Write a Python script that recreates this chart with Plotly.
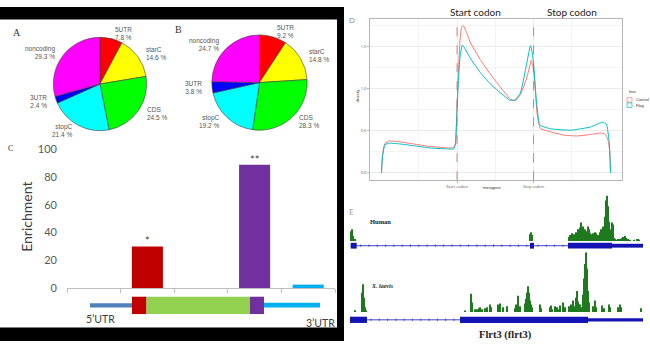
import math
import numpy as np
import plotly.graph_objects as go

W, H = 650, 347
def X(px): return px / W
def Y(py): return 1 - py / H

# ---------------- data ----------------
# Panels A/B: pie charts
pie_labels = ["5UTR", "starC", "CDS", "stopC", "3UTR", "noncoding"]
pie_a_vals = [7.8, 14.6, 24.5, 21.4, 2.4, 29.3]
pie_b_vals = [9.2, 14.8, 28.3, 19.2, 3.8, 24.7]
pie_colors = ["#FF0000", "#FFFF00", "#00FF00", "#00FFFF", "#0000FF", "#FF00FF"]

# Panel C: enrichment bars
enr_cats = ["5'UTR", "start codon", "CDS", "stop codon", "3'UTR"]
enr_vals = [0, 30, 0, 89, 2.5]
enr_sig = ["", "*", "", "**", ""]
enr_colors = ["#4F81BD", "#C00000", "#92D050", "#7030A0", "#00B0F0"]
enr_ticks = [0, 20, 40, 60, 80, 100]

# Panel D: metagene density
meta_start, meta_stop = 33.0, 66.4
ctrl_x = [0, 0.5, 1.5, 3.6, 8, 13.9, 21.2, 28, 31.5, 32.3, 33.0, 33.6, 34.3, 35.0, 35.8, 37, 38.7,
          43.1, 47.4, 51.8, 56.2, 58.4, 60.6, 62.0, 63.5, 65.0, 65.4, 66.0, 66.7, 67.9, 69.3, 73.7,
          79.6, 85.4, 91.2, 96, 97.8, 98.8, 99.7, 100]
ctrl_y = [0.0, 0.22, 0.35, 0.38, 0.37, 0.345, 0.315, 0.30, 0.30, 0.36, 0.80, 1.22, 1.58, 1.74, 1.75,
          1.68, 1.56, 1.35, 1.18, 1.025, 0.88, 0.86, 0.93, 1.02, 1.14, 1.30, 1.34, 1.28, 1.15, 0.72,
          0.53, 0.49, 0.45, 0.44, 0.457, 0.475, 0.46, 0.40, 0.25, 0.0]
trt_x = [0, 0.5, 1.5, 3.6, 8, 13.9, 21.2, 28, 31.5, 32.3, 33.0, 33.6, 34.3, 35.3, 36.0, 38.7, 43.1,
         47.4, 51.8, 56.2, 58.4, 60.6, 62.8, 64.3, 65.0, 65.7, 66.4, 67.5, 68.6, 69.3, 73.7, 82.5,
         91.2, 96.4, 98.2, 99.4, 100]
trt_y = [0.0, 0.20, 0.335, 0.354, 0.345, 0.324, 0.297, 0.287, 0.285, 0.34, 0.75, 1.10, 1.38, 1.523,
         1.50, 1.37, 1.197, 1.063, 0.956, 0.864, 0.87, 0.948, 1.216, 1.43, 1.515, 1.45, 1.30, 0.90,
         0.62, 0.565, 0.526, 0.508, 0.546, 0.603, 0.58, 0.374, 0.0]
meta_series = ["Control", "Flag"]
meta_colors = ["#F8766D", "#00BFC4"]

# Panel E: genome browser tracks (position, signal)
human_pos = [1, 2, 3, 5, 180, 181, 182,
             219, 220, 221, 222, 223, 224, 225, 226, 227, 228, 229, 230, 231, 232, 233, 234, 235, 236,
             237, 238, 239, 240, 241, 242, 243, 244, 245, 246, 247, 248, 249, 250, 251, 252, 253, 254,
             255, 256, 257, 258, 259, 260, 261, 262, 263, 264, 265, 266, 268, 270, 272, 273, 274, 275,
             276, 278, 280, 284, 287, 288, 289]
human_sig = [10, 12, 5, 2, 7, 9, 6,
             4, 6, 5, 8, 6, 7, 5, 9, 7, 12, 10, 14, 19, 13, 15, 11, 12, 9,
             10, 15, 12, 8, 7, 6, 8, 7, 9, 8, 6, 5, 6, 9, 12, 10, 15, 14,
             25, 42, 47, 36, 20, 10, 12, 19, 17, 3, 2, 1, 2, 2, 3, 4, 3, 5,
             3, 2, 1, 1, 2, 2, 1]
xen_pos = [5, 12, 13, 14, 15, 16, 115, 121, 122, 125, 127, 129, 130, 132, 135, 137, 140, 141, 148,
           150, 153, 157, 165, 166, 168, 170, 175, 176, 177, 178, 179, 180, 181, 182, 190, 191,
           200, 201, 202, 205, 207, 208, 210, 213, 215, 219, 221, 222, 223, 224, 226, 227, 228, 229,
           230, 231, 233, 234, 235, 236, 237, 238, 239, 243, 245, 246, 252, 254, 259, 260, 268, 270,
           271, 291]
xen_sig = [2, 20, 29, 15, 5, 2, 1, 19, 10, 3, 3, 4, 5, 3, 4, 5, 8, 5, 8,
           9, 5, 6, 4, 8, 17, 6, 9, 14, 20, 27, 20, 12, 8, 5, 8, 4,
           5, 7, 3, 6, 5, 3, 7, 10, 5, 6, 8, 5, 12, 6, 15, 22, 11, 8,
           8, 5, 18, 35, 50, 62, 45, 22, 10, 6, 12, 5, 7, 4, 8, 5, 5, 8,
           5, 4]
human_cds = [(0.7, 6.7), (180, 184), (218, 262)]
human_utr = [(262, 293)]
human_introns = [(6.7, 180), (184, 218)]
xen_cds = [(0, 17), (110, 238)]
xen_utr = [(238, 293)]
xen_introns = [(17, 110)]

# ---------------- figure ----------------
fig = go.Figure()
shapes, annos = [], []
SANS_C = "Lato, Open Sans, sans-serif"

def txt(x, y, s, size, color="#333", family="Liberation Sans", xa="center", ya="middle", **kw):
    annos.append(dict(x=X(x), y=Y(y), xref="paper", yref="paper", text=s, showarrow=False,
                      xanchor=xa, yanchor=ya, font=dict(size=size, color=color, family=family), **kw))

# Pies
for vals, cx, cy, r in [(pie_a_vals, 100, 80, 48.5), (pie_b_vals, 259.5, 78.5, 49.5)]:
    fig.add_trace(go.Pie(values=vals, labels=pie_labels, sort=False, direction="clockwise",
                         rotation=0, textinfo="none", hoverinfo="label+percent", showlegend=False,
                         marker=dict(colors=pie_colors, line=dict(color="#404040", width=0.6)),
                         domain=dict(x=[X(cx - r), X(cx + r)], y=[Y(cy + r), Y(cy - r)])))
    tot = sum(vals)
    cum = 0
    for lab, v in zip(pie_labels, vals):
        th = 2 * math.pi * (cum + v / 2) / tot
        cum += v
        lx = cx + 1.12 * r * math.sin(th)
        ly = cy - 1.12 * r * math.cos(th)
        left = math.sin(th) >= 0
        txt(lx, ly, f"{lab}<br>{v:.1f} %", 6.5, "#555", xa="left" if left else "right",
            align="left" if left else "right")

txt(17, 27, "A", 10, "#333", "Liberation Serif")
txt(178, 23, "B", 10, "#333", "Liberation Serif")
txt(10, 147, "C", 8, "#333", "Liberation Serif")

# Panel C bars
fig.add_trace(go.Bar(x=enr_cats, y=enr_vals, marker=dict(color=enr_colors, line=dict(width=0)),
                     width=0.58, showlegend=False, xaxis="x", yaxis="y"))
for c, v, s in zip(enr_cats, enr_vals, enr_sig):
    if s:
        annos.append(dict(x=c, y=v, xref="x", yref="y", text=s, showarrow=False, yanchor="bottom",
                          yshift=-3, font=dict(size=11, color="#404040", family=SANS_C)))
txt(27, 218, "Enrichment", 14, "#404040", SANS_C, textangle=-90)
# gene schematic
def rect(x0, x1, y0, y1, color, **kw):
    shapes.append(dict(type="rect", xref="paper", yref="paper", x0=X(x0), x1=X(x1), y0=Y(y1), y1=Y(y0),
                       fillcolor=color, line=dict(width=0), layer="above", **kw))
rect(90, 132, 307.7, 312.3, enr_colors[0])
rect(132, 146.5, 301, 319, enr_colors[1])
rect(146.5, 250, 301, 319, enr_colors[2])
rect(250, 264, 301, 319, enr_colors[3])
rect(264, 320, 307.3, 312.3, enr_colors[4])
txt(101, 324, "5\u2019UTR", 10.5, "#404040", SANS_C)
txt(320, 328.5, "3\u2019UTR", 10.5, "#404040", SANS_C)

# Panel D lines
for xs, ys, name, col in [(ctrl_x, ctrl_y, meta_series[0], meta_colors[0]),
                          (trt_x, trt_y, meta_series[1], meta_colors[1])]:
    fig.add_trace(go.Scatter(x=xs, y=ys, mode="lines", name=name,
                             line=dict(color=col, width=1, shape="spline", smoothing=0.4),
                             showlegend=False, xaxis="x2", yaxis="y2"))
for xv in [meta_start, meta_stop]:
    shapes.append(dict(type="line", xref="x2", yref="y2 domain", x0=xv, x1=xv, y0=0, y1=1,
                       line=dict(color="#B86A6A", width=0.8, dash="dash"), layer="above"))
txt(475, 5.5, "Start codon", 10, "#222", SANS_C)
txt(572, 5.5, "Stop codon", 10, "#222", SANS_C)
txt(352, 14, "D", 8, "#888", "Liberation Sans")
txt(493, 188, "metagene", 4, "#333")
txt(358, 93, "density", 4, "#333", textangle=-90)
# legend (manual, tiny)
txt(627, 88, "feat", 4, "#333", xa="left")
for i, (nm, col) in enumerate(zip(meta_series, meta_colors)):
    yy = 96.5 + i * 5.5
    shapes.append(dict(type="rect", xref="paper", yref="paper", x0=X(627), x1=X(632), y0=Y(yy + 2.3),
                       y1=Y(yy - 2.3), fillcolor="white", line=dict(color=col, width=0.7)))
    txt(634, yy, nm, 4, "#333", xa="left")

# Panel E tracks
GREEN = "#1F7A1F"
BLUE = "#1414B4"
fig.add_trace(go.Bar(x=human_pos, y=human_sig, width=1.0, marker=dict(color=GREEN, line=dict(width=0)),
                     showlegend=False, xaxis="x3", yaxis="y3"))
fig.add_trace(go.Bar(x=xen_pos, y=xen_sig, width=1.0, marker=dict(color=GREEN, line=dict(width=0)),
                     showlegend=False, xaxis="x3", yaxis="y4"))

def gene_model(cds, utr, introns, ymid, thick, thin):
    start = min(a for a, b in cds + utr)
    end = max(b for a, b in cds + utr)
    shapes.append(dict(type="line", xref="x3", yref="paper", x0=start, x1=end, y0=Y(ymid), y1=Y(ymid),
                       line=dict(color=BLUE, width=0.8)))
    for a, b in cds:
        shapes.append(dict(type="rect", xref="x3", yref="paper", x0=a, x1=b, y0=Y(ymid + thick / 2),
                           y1=Y(ymid - thick / 2), fillcolor=BLUE, line=dict(width=0)))
    for a, b in utr:
        shapes.append(dict(type="rect", xref="x3", yref="paper", x0=a, x1=b, y0=Y(ymid + thin / 2),
                           y1=Y(ymid - thin / 2), fillcolor=BLUE, line=dict(width=0)))
    for a, b in introns:
        for t in np.arange(a + 4, b - 2, 8.3):
            shapes.append(dict(type="line", xref="x3", yref="paper", x0=t, x1=t, y0=Y(ymid + 1.3),
                               y1=Y(ymid - 1.3), line=dict(color=BLUE, width=0.6)))

gene_model(human_cds, human_utr, human_introns, 248, 6, 4)
gene_model(xen_cds, xen_utr, xen_introns, 325, 6.5, 3.5)
txt(351, 213, "E", 8, "#999", "Liberation Serif")
txt(368, 223, "<b>Human</b>", 6.5, "#222", "Liberation Serif", xa="left")
txt(369, 290, "<b><i>X. laevis</i></b>", 6, "#222", "Liberation Serif", xa="left")
txt(505, 341, "<b>Flrt3 (flrt3)</b>", 10.5, "#222", "Liberation Serif")

# black frame
for x0, x1, y0, y1 in [(0, 344, 0, 13), (337, 344, 0, 347), (0, 344, 333, 347)]:
    shapes.append(dict(type="rect", xref="paper", yref="paper", x0=X(x0), x1=X(x1), y0=Y(y1), y1=Y(y0),
                       fillcolor="black", line=dict(width=0), layer="above"))

grid_minor_x = [meta_start - (meta_stop - meta_start) / 2, (meta_start + meta_stop) / 2,
                meta_stop + (meta_stop - meta_start) / 2]
fig.update_layout(
    width=W, height=H, margin=dict(l=0, r=0, t=0, b=0),
    paper_bgcolor="white", plot_bgcolor="rgba(0,0,0,0)",
    shapes=shapes, annotations=annos, bargap=0.42,
    xaxis=dict(domain=[X(67), X(335)], type="category", anchor="y", showline=True,
               linecolor="#BFBFBF", linewidth=1, ticks="outside", ticklen=4, tickcolor="#BFBFBF",
               tickson="boundaries", showticklabels=False, showgrid=False, zeroline=False),
    yaxis=dict(domain=[Y(292), Y(148)], range=[0, 100], tickvals=enr_ticks, anchor="x",
               showgrid=False, zeroline=False, showline=False, ticklabelstandoff=9,
               tickfont=dict(size=11, color="#595959", family=SANS_C)),
    xaxis2=dict(domain=[X(370), X(622)], range=[-5, 105], anchor="y2", showline=True, mirror=True,
                linecolor="#B5B5B5", linewidth=0.8, showgrid=True, gridcolor="#EBEBEB", gridwidth=0.6,
                zeroline=False, tickvals=[meta_start, meta_stop], ticktext=["Start codon", "Stop codon"],
                ticks="outside", ticklen=2, tickcolor="#B5B5B5", tickfont=dict(size=4, color="#555"),
                minor=dict(tickvals=grid_minor_x, showgrid=True, gridcolor="#F4F4F4", gridwidth=0.5)),
    yaxis2=dict(domain=[Y(180), Y(12)], range=[-0.0875, 1.8375], anchor="x2", showline=True, mirror=True,
                linecolor="#B5B5B5", linewidth=0.8, showgrid=True, gridcolor="#EBEBEB", gridwidth=0.6,
                zeroline=False, tickvals=[0, 0.5, 1.0, 1.5], ticktext=["0.0", "0.5", "1.0", "1.5"],
                ticks="outside", ticklen=2, tickcolor="#B5B5B5", tickfont=dict(size=4, color="#555"),
                minor=dict(tickvals=[0.25, 0.75, 1.25, 1.75], showgrid=True, gridcolor="#F4F4F4", gridwidth=0.5)),
    xaxis3=dict(domain=[X(350), X(645)], range=[0, 295], anchor="y3", visible=False),
    yaxis3=dict(domain=[Y(243), Y(195)], range=[0, 48], anchor="x3", visible=False),
    yaxis4=dict(domain=[Y(317), Y(253)], range=[0, 64], anchor="x3", visible=False),
)

fig.write_html("out.html")
